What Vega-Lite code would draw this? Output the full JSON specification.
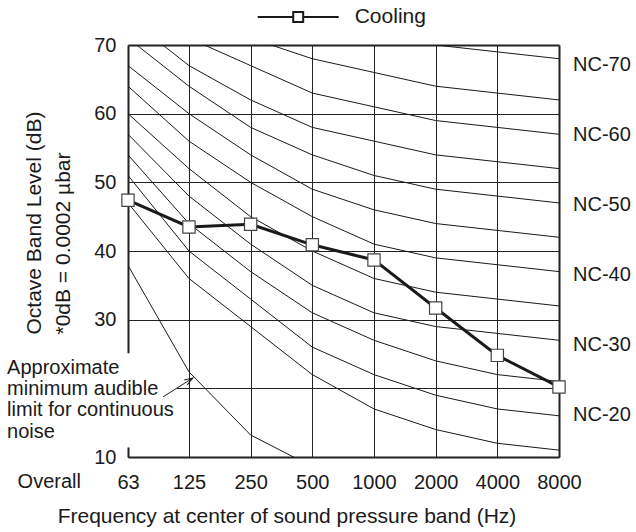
{
  "$schema": "https://vega.github.io/schema/vega-lite/v6.json",
  "width": 431,
  "height": 412,
  "autosize": {"type": "none"},
  "padding": {"left": 128, "top": 45, "right": 77, "bottom": 75},
  "datasets": {
    "nc": [
      {"curve": "NC-15", "freq": 63, "level": 47}, {"curve": "NC-15", "freq": 125, "level": 36}, {"curve": "NC-15", "freq": 250, "level": 29}, {"curve": "NC-15", "freq": 500, "level": 22}, {"curve": "NC-15", "freq": 1000, "level": 17}, {"curve": "NC-15", "freq": 2000, "level": 14}, {"curve": "NC-15", "freq": 4000, "level": 12}, {"curve": "NC-15", "freq": 8000, "level": 11},
      {"curve": "NC-20", "freq": 63, "level": 51}, {"curve": "NC-20", "freq": 125, "level": 40}, {"curve": "NC-20", "freq": 250, "level": 33}, {"curve": "NC-20", "freq": 500, "level": 26}, {"curve": "NC-20", "freq": 1000, "level": 22}, {"curve": "NC-20", "freq": 2000, "level": 19}, {"curve": "NC-20", "freq": 4000, "level": 17}, {"curve": "NC-20", "freq": 8000, "level": 16},
      {"curve": "NC-25", "freq": 63, "level": 54}, {"curve": "NC-25", "freq": 125, "level": 44}, {"curve": "NC-25", "freq": 250, "level": 37}, {"curve": "NC-25", "freq": 500, "level": 31}, {"curve": "NC-25", "freq": 1000, "level": 27}, {"curve": "NC-25", "freq": 2000, "level": 24}, {"curve": "NC-25", "freq": 4000, "level": 22}, {"curve": "NC-25", "freq": 8000, "level": 21},
      {"curve": "NC-30", "freq": 63, "level": 57}, {"curve": "NC-30", "freq": 125, "level": 48}, {"curve": "NC-30", "freq": 250, "level": 41}, {"curve": "NC-30", "freq": 500, "level": 35}, {"curve": "NC-30", "freq": 1000, "level": 31}, {"curve": "NC-30", "freq": 2000, "level": 29}, {"curve": "NC-30", "freq": 4000, "level": 28}, {"curve": "NC-30", "freq": 8000, "level": 27},
      {"curve": "NC-35", "freq": 63, "level": 60}, {"curve": "NC-35", "freq": 125, "level": 52}, {"curve": "NC-35", "freq": 250, "level": 45}, {"curve": "NC-35", "freq": 500, "level": 40}, {"curve": "NC-35", "freq": 1000, "level": 36}, {"curve": "NC-35", "freq": 2000, "level": 34}, {"curve": "NC-35", "freq": 4000, "level": 33}, {"curve": "NC-35", "freq": 8000, "level": 32},
      {"curve": "NC-40", "freq": 63, "level": 64}, {"curve": "NC-40", "freq": 125, "level": 56}, {"curve": "NC-40", "freq": 250, "level": 50}, {"curve": "NC-40", "freq": 500, "level": 45}, {"curve": "NC-40", "freq": 1000, "level": 41}, {"curve": "NC-40", "freq": 2000, "level": 39}, {"curve": "NC-40", "freq": 4000, "level": 38}, {"curve": "NC-40", "freq": 8000, "level": 37},
      {"curve": "NC-45", "freq": 63, "level": 67}, {"curve": "NC-45", "freq": 125, "level": 60}, {"curve": "NC-45", "freq": 250, "level": 54}, {"curve": "NC-45", "freq": 500, "level": 49}, {"curve": "NC-45", "freq": 1000, "level": 46}, {"curve": "NC-45", "freq": 2000, "level": 44}, {"curve": "NC-45", "freq": 4000, "level": 43}, {"curve": "NC-45", "freq": 8000, "level": 42},
      {"curve": "NC-50", "freq": 63, "level": 71}, {"curve": "NC-50", "freq": 125, "level": 64}, {"curve": "NC-50", "freq": 250, "level": 58}, {"curve": "NC-50", "freq": 500, "level": 54}, {"curve": "NC-50", "freq": 1000, "level": 51}, {"curve": "NC-50", "freq": 2000, "level": 49}, {"curve": "NC-50", "freq": 4000, "level": 48}, {"curve": "NC-50", "freq": 8000, "level": 47},
      {"curve": "NC-55", "freq": 63, "level": 74}, {"curve": "NC-55", "freq": 125, "level": 67}, {"curve": "NC-55", "freq": 250, "level": 62}, {"curve": "NC-55", "freq": 500, "level": 58}, {"curve": "NC-55", "freq": 1000, "level": 56}, {"curve": "NC-55", "freq": 2000, "level": 54}, {"curve": "NC-55", "freq": 4000, "level": 53}, {"curve": "NC-55", "freq": 8000, "level": 52},
      {"curve": "NC-60", "freq": 63, "level": 77}, {"curve": "NC-60", "freq": 125, "level": 71}, {"curve": "NC-60", "freq": 250, "level": 67}, {"curve": "NC-60", "freq": 500, "level": 63}, {"curve": "NC-60", "freq": 1000, "level": 61}, {"curve": "NC-60", "freq": 2000, "level": 59}, {"curve": "NC-60", "freq": 4000, "level": 58}, {"curve": "NC-60", "freq": 8000, "level": 57},
      {"curve": "NC-65", "freq": 63, "level": 80}, {"curve": "NC-65", "freq": 125, "level": 75}, {"curve": "NC-65", "freq": 250, "level": 71}, {"curve": "NC-65", "freq": 500, "level": 68}, {"curve": "NC-65", "freq": 1000, "level": 66}, {"curve": "NC-65", "freq": 2000, "level": 64}, {"curve": "NC-65", "freq": 4000, "level": 63}, {"curve": "NC-65", "freq": 8000, "level": 62},
      {"curve": "NC-70", "freq": 63, "level": 83}, {"curve": "NC-70", "freq": 125, "level": 79}, {"curve": "NC-70", "freq": 250, "level": 75}, {"curve": "NC-70", "freq": 500, "level": 72}, {"curve": "NC-70", "freq": 1000, "level": 71}, {"curve": "NC-70", "freq": 2000, "level": 70}, {"curve": "NC-70", "freq": 4000, "level": 69}, {"curve": "NC-70", "freq": 8000, "level": 68}
    ],
    "threshold": [
      {"freq": 63, "level": 37.9}, {"freq": 125, "level": 22.4}, {"freq": 250, "level": 13.2}, {"freq": 500, "level": 8.6}
    ],
    "cooling": [
      {"series": "Cooling", "freq": 63, "level": 47.4}, {"series": "Cooling", "freq": 125, "level": 43.5}, {"series": "Cooling", "freq": 250, "level": 43.9}, {"series": "Cooling", "freq": 500, "level": 40.9}, {"series": "Cooling", "freq": 1000, "level": 38.7}, {"series": "Cooling", "freq": 2000, "level": 31.7}, {"series": "Cooling", "freq": 4000, "level": 24.8}, {"series": "Cooling", "freq": 8000, "level": 20.2}
    ],
    "labels": [
      {"label": "NC-70", "level": 67.1}, {"label": "NC-60", "level": 56.9}, {"label": "NC-50", "level": 46.7}, {"label": "NC-40", "level": 36.5}, {"label": "NC-30", "level": 26.3}, {"label": "NC-20", "level": 16.1}
    ]
  },
  "layer": [
    {
      "data": {"name": "nc"},
      "mark": {"type": "line", "clip": true, "stroke": "#1a1a1a", "strokeWidth": 1},
      "encoding": {
        "x": {"field": "freq", "type": "quantitative",
          "scale": {"type": "log", "domain": [63, 8000], "nice": false},
          "axis": {
            "values": [63, 125, 250, 500, 1000, 2000, 4000, 8000], "format": "d",
            "title": "Frequency at center of sound pressure band (Hz)",
            "titleFontSize": 21, "titleFontWeight": "normal", "titleColor": "#1a1a1a",
            "titleX": 158.5, "titleY": 65, "titleBaseline": "alphabetic", "titleAlign": "center",
            "labelFontSize": 20, "labelColor": "#1a1a1a", "labelPadding": 15, "labelFlush": false, "labelOverlap": false, "labelBound": false,
            "ticks": false, "domainWidth": 2, "domainColor": "#222",
            "grid": true, "gridColor": "#222", "gridOpacity": 1,
            "gridWidth": {"condition": {"test": "datum.value == 8000", "value": 2}, "value": 1}
          }
        },
        "y": {"field": "level", "type": "quantitative",
          "scale": {"domain": [10, 70], "nice": false, "zero": false},
          "axis": {
            "values": [10, 20, 30, 40, 50, 60, 70],
            "labelExpr": "datum.value == 20 ? '' : datum.label",
            "title": ["Octave Band Level (dB)", "*0dB = 0.0002 µbar"],
            "titleFontSize": 21, "titleFontWeight": "normal", "titleColor": "#1a1a1a",
            "titleAngle": 270, "titleX": -88, "titleY": 289, "titleAlign": "left", "titleBaseline": "alphabetic", "titleLineHeight": 29.5,
            "labelFontSize": 20, "labelColor": "#1a1a1a", "labelPadding": 12,
            "ticks": false, "domainWidth": 2, "domainColor": "#222",
            "grid": true, "gridColor": "#222", "gridOpacity": 1,
            "gridWidth": {"condition": {"test": "datum.value == 70", "value": 2}, "value": 1}
          }
        },
        "detail": {"field": "curve"}
      }
    },
    {
      "data": {"name": "threshold"},
      "mark": {"type": "line", "clip": true, "stroke": "#1a1a1a", "strokeWidth": 1},
      "encoding": {
        "x": {"field": "freq", "type": "quantitative"},
        "y": {"field": "level", "type": "quantitative"}
      }
    },
    {
      "data": {"values": [{"note": "box"}]},
      "mark": {"type": "rect", "fill": "white", "stroke": null},
      "encoding": {
        "x": {"datum": 14.9, "type": "quantitative"},
        "x2": {"datum": 109.3},
        "y": {"datum": 11.4, "type": "quantitative"},
        "y2": {"datum": 25.1}
      }
    },
    {
      "data": {"values": [{"note": "Approximate minimum audible limit for continuous noise"}]},
      "mark": {"type": "text", "align": "left", "baseline": "alphabetic", "fontSize": 20, "lineHeight": 21.1, "color": "#1a1a1a"},
      "encoding": {
        "x": {"datum": 16.19, "type": "quantitative"},
        "y": {"datum": 22.05, "type": "quantitative"},
        "text": {"value": ["Approximate", "minimum audible", "limit for continuous", "noise"]}
      }
    },
    {
      "data": {"values": [{"note": "arrow"}]},
      "mark": {"type": "rule", "stroke": "#1a1a1a", "strokeWidth": 1},
      "encoding": {
        "x": {"datum": 93.4, "type": "quantitative"},
        "x2": {"datum": 130.5},
        "y": {"datum": 18.75, "type": "quantitative"},
        "y2": {"datum": 21.5}
      }
    },
    {
      "data": {"values": [{"note": "arrowhead"}]},
      "mark": {"type": "point", "shape": "M-0.8,2.4L0,0L0.8,2.4", "filled": false, "stroke": "#1a1a1a", "strokeWidth": 1, "size": 49, "angle": 58, "opacity": 1},
      "encoding": {
        "x": {"datum": 130.5, "type": "quantitative"},
        "y": {"datum": 21.5, "type": "quantitative"}
      }
    },
    {
      "data": {"name": "cooling"},
      "mark": {"type": "line", "strokeWidth": 3},
      "encoding": {
        "x": {"field": "freq", "type": "quantitative"},
        "y": {"field": "level", "type": "quantitative"},
        "color": {"field": "series", "type": "nominal",
          "scale": {"range": ["#1a1a1a"]},
          "legend": {
            "orient": "none", "legendX": 128.7, "legendY": -69.5, "title": null, "padding": 0,
            "symbolType": "M-1,0H-0.123M0.123,0H1M-0.123,-0.123H0.123V0.123H-0.123Z",
            "symbolSize": 6561, "symbolStrokeWidth": 2, "symbolFillColor": "white",
            "labelFontSize": 21, "labelColor": "#1a1a1a", "labelOffset": 15,
            "encode": {"symbols": {"update": {"fill": {"value": "white"}, "stroke": {"value": "#1a1a1a"}, "strokeWidth": {"value": 2}, "opacity": {"value": 1}}}}
          }
        }
      }
    },
    {
      "data": {"name": "cooling"},
      "mark": {"type": "point", "shape": "square", "filled": true, "fill": "white", "stroke": "#444", "strokeWidth": 1.2, "size": 150, "opacity": 1},
      "encoding": {
        "x": {"field": "freq", "type": "quantitative"},
        "y": {"field": "level", "type": "quantitative"}
      }
    },
    {
      "data": {"name": "labels"},
      "mark": {"type": "text", "align": "left", "baseline": "middle", "dx": 14, "fontSize": 20, "color": "#1a1a1a"},
      "encoding": {
        "x": {"datum": 8000, "type": "quantitative"},
        "y": {"field": "level", "type": "quantitative"},
        "text": {"field": "label"}
      }
    },
    {
      "data": {"values": [{"label": "Overall"}]},
      "mark": {"type": "text", "align": "center", "baseline": "alphabetic", "dy": 31, "fontSize": 20, "color": "#1a1a1a"},
      "encoding": {
        "x": {"datum": 26, "type": "quantitative"},
        "y": {"datum": 10, "type": "quantitative"},
        "text": {"field": "label"}
      }
    }
  ],
  "config": {
    "font": "Liberation Sans",
    "view": {"stroke": null}
  }
}
